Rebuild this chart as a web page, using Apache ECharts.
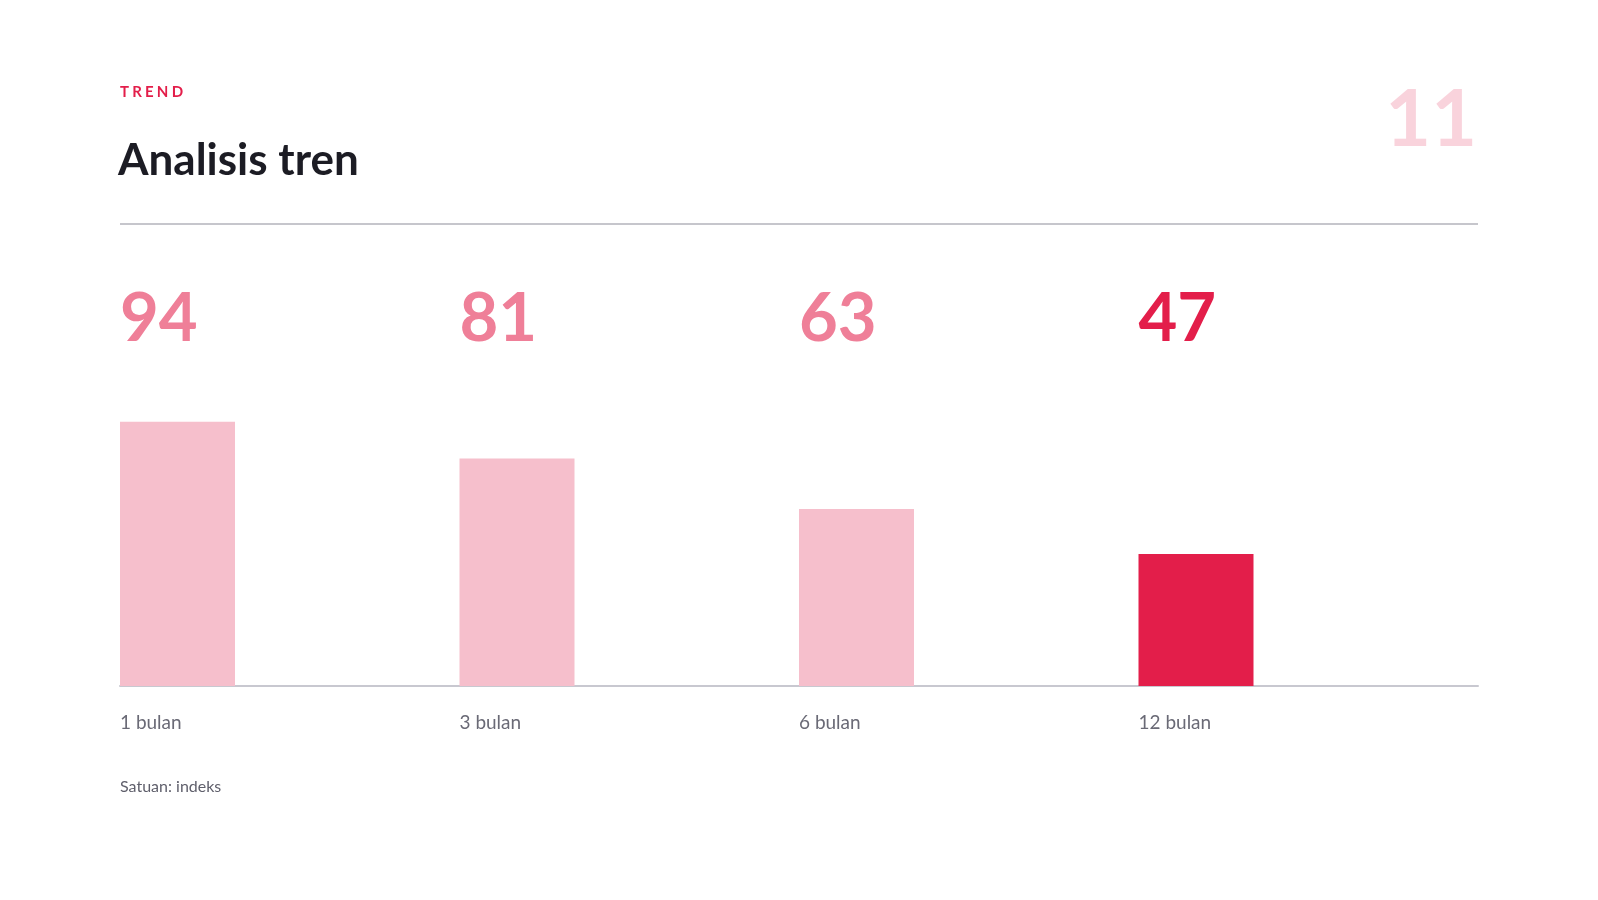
<!DOCTYPE html>
<html>
<head>
<meta charset="utf-8">
<script src="https://cdn.jsdelivr.net/npm/echarts@6/dist/echarts.min.js"></script>
<style>
html,body{margin:0;padding:0;background:#fff;}
#c{width:1598px;height:900px;}
</style>
</head>
<body>
<div id="c"></div>
<script>
const categories = ['1 bulan', '3 bulan', '6 bulan', '12 bulan'];
const values = [94, 81, 63, 47];
const highlightIndex = 3;
const kicker = 'TREND';
const titleText = 'Analisis tren';
const pageNumber = '11';
const unitNote = 'Satuan: indeks';

const FONT = 'Lato, "Noto Sans", sans-serif';
const BAND = (1598 - 240) / categories.length;
const BAR_W = 115;
const HALF = BAND / 2;

const chart = echarts.init(document.getElementById('c'), null, {renderer: 'canvas'});
chart.setOption({
  backgroundColor: '#ffffff',
  animation: false,
  title: [
    {text: kicker.split('').map(ch => '{s|' + ch + '}').join(''), left: 120, top: 85, padding: 0,
     textStyle: {fontFamily: FONT, fontSize: 15, fontWeight: 'bold', color: '#e31e4a', lineHeight: 15,
       rich: {s: {fontFamily: FONT, fontSize: 15, fontWeight: 'bold', color: '#e31e4a', lineHeight: 15, padding: [0, 3.2, 0, 0]}}}},
    {text: titleText, left: 118, top: 139, padding: 0,
     textStyle: {fontFamily: FONT, fontSize: 44, fontWeight: 'bold', color: '#1c1c24', lineHeight: 44}},
    {text: pageNumber, right: 121, top: 81, padding: 0,
     textStyle: {fontFamily: FONT, fontSize: 79, fontWeight: 'bold', color: '#f9d3dc', lineHeight: 79}},
    {text: unitNote, left: 120, top: 779, padding: 0,
     textStyle: {fontFamily: FONT, fontSize: 16, fontWeight: 'normal', color: '#5f5f6b', lineHeight: 16}}
  ],
  graphic: [
    {type: 'line', shape: {x1: 120, y1: 224, x2: 1478, y2: 224},
     style: {stroke: '#c6c6cc', lineWidth: 2}}
  ],
  grid: {left: 120, right: 120, top: 405, bottom: 214, containLabel: false},
  xAxis: [
    {
      type: 'category', data: categories, position: 'bottom',
      axisLine: {show: true, lineStyle: {color: '#c8c8d0', width: 2}},
      axisTick: {show: false},
      axisLabel: {
        interval: 0, margin: 27, align: 'right', verticalAlign: 'top',
        formatter: v => '{c|' + v + '}',
        rich: {c: {width: HALF, align: 'left', fontFamily: FONT, fontSize: 19, lineHeight: 19, color: '#6a6a76'}}
      }
    },
    {
      type: 'category', data: values.map(String), position: 'top',
      axisLine: {show: false}, axisTick: {show: false},
      axisLabel: {
        interval: 0, margin: 86, align: 'right', verticalAlign: 'middle',
        formatter: (v, i) => (i === highlightIndex ? '{h|' : '{n|') + v + '}',
        rich: {
          n: {width: HALF, align: 'left', fontFamily: FONT, fontSize: 67, fontWeight: 'bold', lineHeight: 67, color: '#ef7f98'},
          h: {width: HALF, align: 'left', fontFamily: FONT, fontSize: 67, fontWeight: 'bold', lineHeight: 67, color: '#e31e4a'}
        }
      }
    }
  ],
  yAxis: {type: 'value', min: 0, max: 100, show: false, splitLine: {show: false}},
  series: [
    {
      type: 'bar', xAxisIndex: 0, barWidth: BAR_W, barGap: '0%',
      data: values.map((v, i) => ({value: v, itemStyle: {color: i === highlightIndex ? '#e31e4a' : '#f6bfcc'}})),
      silent: true
    },
    {
      type: 'bar', xAxisIndex: 0, barWidth: BAND - BAR_W, barGap: '0%',
      data: values.map(() => 0),
      itemStyle: {color: 'rgba(0,0,0,0)'}, silent: true
    }
  ]
});
</script>
</body>
</html>
